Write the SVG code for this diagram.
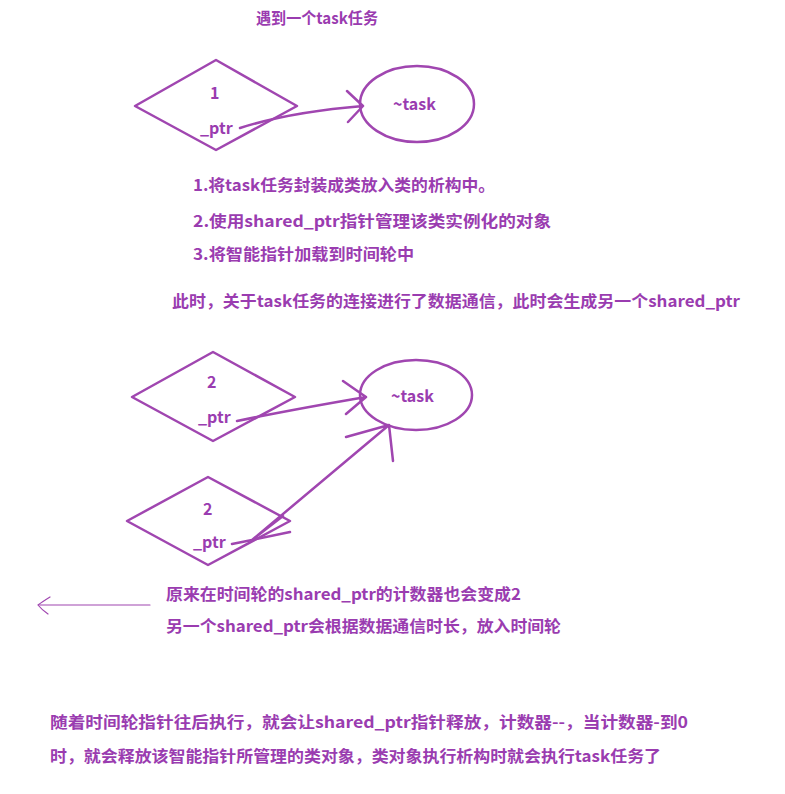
<svg xmlns="http://www.w3.org/2000/svg" width="785" height="794" viewBox="0 0 785 794">
<style>
.s{fill:none;stroke:#a046b0;stroke-width:2.5;stroke-linecap:round;stroke-linejoin:round}
.t{fill:none;stroke:#a046b0;stroke-width:1.2;stroke-linecap:round}
text{font-family:"Microsoft YaHei","Noto Sans CJK SC",sans-serif;font-weight:bold;font-size:16px;fill:#9a3cb0}
</style>
<rect width="785" height="794" fill="#fff"/>
<text x="256" y="24" textLength="122" lengthAdjust="spacingAndGlyphs">遇到一个task任务</text>
<g id="n1"><path class="s" d="M135,106 L216,60 L297,106 L216,150 Z"/><text x="210" y="99">1</text><text x="200" y="134">_ptr</text></g>
<g id="e1"><ellipse class="s" cx="417" cy="104" rx="57" ry="38"/><text x="393" y="110">~task</text></g>
<g id="n2"><path class="s" d="M132,397 L213,352 L295,397 L213,441 Z"/><text x="207" y="388">2</text><text x="198" y="423">_ptr</text></g>
<g id="e2"><ellipse class="s" cx="416" cy="395" rx="56" ry="35"/><text x="391" y="402">~task</text></g>
<g id="n3"><path class="s" d="M127,521 L208,477 L290,521 L208,565 Z"/><text x="203" y="515">2</text><text x="193" y="548">_ptr</text></g>
<g id="connectors">
<path class="s" d="M240,128 Q290,112 363,106 M347,91 L363,106 L348,122"/>
<path class="s" d="M237,421 Q290,410 366,397 M343,381 L366,397 L346,414"/>
<path class="s" d="M232,544 L252,540 L389,425 M346,437 L389,425 L393,461 M252,540 L290,532 M252,540 L283,516"/>
<path class="t" d="M150,605 L40,605 M50,597 Q42,602 38,605 Q42,610 48,614"/>
</g>
<text x="193" y="191" textLength="302" lengthAdjust="spacingAndGlyphs">1.将task任务封装成类放入类的析构中。</text>
<text x="193" y="227" textLength="358" lengthAdjust="spacingAndGlyphs">2.使用shared_ptr指针管理该类实例化的对象</text>
<text x="193" y="260" textLength="221" lengthAdjust="spacingAndGlyphs">3.将智能指针加载到时间轮中</text>
<text x="172" y="307" textLength="568" lengthAdjust="spacingAndGlyphs">此时，关于task任务的连接进行了数据通信，此时会生成另一个shared_ptr</text>
<text x="166" y="600" textLength="355" lengthAdjust="spacingAndGlyphs">原来在时间轮的shared_ptr的计数器也会变成2</text>
<text x="166" y="632" textLength="395" lengthAdjust="spacingAndGlyphs">另一个shared_ptr会根据数据通信时长，放入时间轮</text>
<text x="50" y="728" textLength="638" lengthAdjust="spacingAndGlyphs">随着时间轮指针往后执行，就会让shared_ptr指针释放，计数器--，当计数器-到0</text>
<text x="50" y="762" textLength="611" lengthAdjust="spacingAndGlyphs">时，就会释放该智能指针所管理的类对象，类对象执行析构时就会执行task任务了</text>
</svg>
